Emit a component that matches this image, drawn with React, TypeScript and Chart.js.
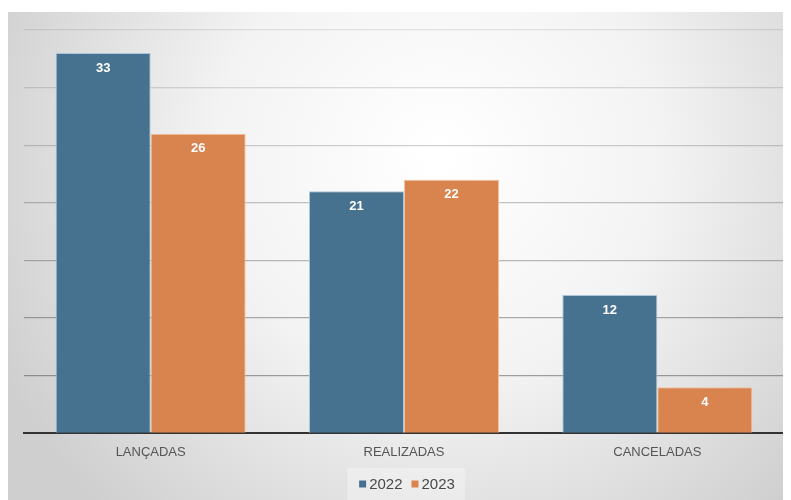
import React, { useEffect, useRef } from "react";
import { Chart, registerables } from "chart.js";

Chart.register(...registerables);

const categories = ["LANÇADAS", "REALIZADAS", "CANCELADAS"];
const seriesNames = ["2022", "2023"];
const values2022 = [33, 21, 12];
const values2023 = [26, 22, 4];
const yMax = 35;
const yStep = 5;

const FONT = "'Liberation Sans', Arial, sans-serif";

const bgPlugin = {
  id: "bgGradient",
  beforeDraw(chart: any) {
    const { ctx, width, height } = chart;
    ctx.save();
    const g = ctx.createRadialGradient(width * 0.55, height * 0.3, 10, width * 0.55, height * 0.3, width * 0.62);
    g.addColorStop(0, "#ffffff");
    g.addColorStop(0.45, "#f3f3f3");
    g.addColorStop(1, "#cfcfcf");
    ctx.fillStyle = g;
    ctx.fillRect(0, 0, width, height);
    ctx.restore();
  },
};

const legendPlugin = {
  id: "compactLegend",
  afterDraw(chart: any) {
    const { ctx, chartArea } = chart;
    const cy = chart.height - 16;
    const box = 7;
    const gap = 3;
    const itemGap = 9;
    ctx.save();
    ctx.font = `15px ${FONT}`;
    ctx.textBaseline = "middle";
    const items = chart.data.datasets.map((ds: any) => ({
      label: ds.label,
      color: ds.backgroundColor,
      w: box + gap + ctx.measureText(ds.label).width,
    }));
    const total = items.reduce((s: number, it: any) => s + it.w, 0) + itemGap * (items.length - 1);
    const center = (chartArea.left + chartArea.right) / 2 + 3;
    let x = center - total / 2;
    ctx.fillStyle = "rgba(255,255,255,0.3)";
    ctx.fillRect(x - 12, cy - 16, total + 22, 32);
    items.forEach((it: any) => {
      ctx.fillStyle = it.color;
      ctx.fillRect(x, cy - box / 2, box, box);
      ctx.fillStyle = "#4a4a4a";
      ctx.textAlign = "left";
      ctx.fillText(it.label, x + box + gap, cy + 0.5);
      x += it.w + itemGap;
    });
    ctx.restore();
  },
};

const labelPlugin = {
  id: "barLabels",
  afterDraw(chart: any) {
    const { ctx } = chart;
    ctx.save();
    ctx.fillStyle = "#ffffff";
    ctx.font = `bold 13px ${FONT}`;
    ctx.textAlign = "center";
    ctx.textBaseline = "middle";
    chart.data.datasets.forEach((ds: any, di: number) => {
      const meta = chart.getDatasetMeta(di);
      meta.data.forEach((bar: any, i: number) => {
        ctx.fillText(String(ds.data[i]), bar.x, bar.y + 15);
      });
    });
    ctx.restore();
  },
};

export default function App() {
  const ref = useRef<HTMLCanvasElement | null>(null);
  useEffect(() => {
    if (!ref.current) return;
    const chart = new Chart(ref.current, {
      type: "bar",
      data: {
        labels: categories,
        datasets: [
          {
            label: seriesNames[0],
            data: values2022,
            backgroundColor: "#46728f",
            borderColor: "#a9c6da",
            borderWidth: 1,
          },
          {
            label: seriesNames[1],
            data: values2023,
            backgroundColor: "#d9834f",
            borderColor: "#f5bf9c",
            borderWidth: 1,
          },
        ],
      },
      options: {
        animation: false,
        responsive: false,
        layout: { padding: { left: 16, right: 7, top: 18, bottom: 37 } },
        datasets: { bar: { categoryPercentage: 0.75, barPercentage: 1.0 } },
        scales: {
          x: {
            grid: { display: false },
            border: { color: "#333333", width: 2 },
            ticks: {
              color: "#555555",
              font: { family: FONT, size: 13 },
              padding: 3,
            },
          },
          y: {
            min: 0,
            max: yMax,
            z: 1,
            ticks: { display: false, stepSize: yStep },
            border: { display: false },
            grid: {
              drawTicks: false,
              lineWidth: 1.3,
              color: (c: any) => {
                const v = c.tick ? c.tick.value : 0;
                if (v === 0) return "rgba(0,0,0,0)";
                const a = 0.12 + (1 - v / yMax) * 0.4;
                return `rgba(60,60,60,${a.toFixed(3)})`;
              },
            },
          },
        },
        plugins: {
          legend: { display: false },
          tooltip: { enabled: false },
        },
      },
      plugins: [bgPlugin, labelPlugin, legendPlugin],
    });
    return () => chart.destroy();
  }, []);
  return (
    <div style={{ marginTop: 4 }}>
      <canvas ref={ref} width={783} height={488} style={{ display: "block" }} />
    </div>
  );
}
